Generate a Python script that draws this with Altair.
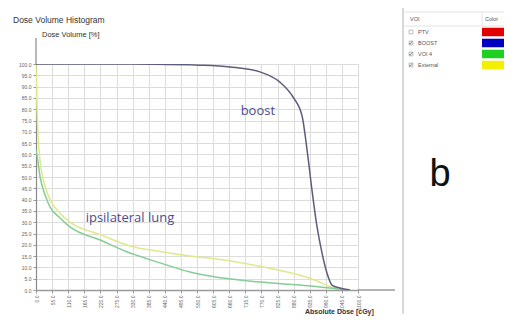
import altair as alt
import pandas as pd

# ---- data ----
x_ticks = [0, 55, 110, 165, 220, 275, 330, 385, 440, 495, 550, 605, 660, 715, 770, 825, 880, 935, 990, 1045, 1100]
y_ticks = [0, 5, 10, 15, 20, 25, 30, 35, 40, 45, 50, 55, 60, 65, 70, 75, 80, 85, 90, 95, 100]

boost_dose = [0, 200, 400, 560, 663, 765, 833, 878, 909, 926, 943, 960, 977, 994, 1011, 1038, 1073]
boost_vol = [100, 100, 99.9, 99.5, 98.7, 96.5, 92, 85.4, 77, 62, 44, 28, 16.4, 7.5, 2.2, 0.9, 0]

lung_dose = [0, 3, 14, 31, 48, 82, 116, 219, 321, 424, 526, 594, 765, 902, 1004, 1056]
lung_vol = [62, 60, 50, 42, 36.7, 31.9, 27.9, 22.1, 16.4, 12, 8, 6.2, 3.5, 2.2, 0.9, 0]

ext_dose = [0, 3, 7, 14, 31, 48, 82, 116, 219, 321, 424, 526, 594, 765, 902, 960, 1004, 1040]
ext_vol = [100, 82, 68, 57, 46, 40, 34, 30, 24.5, 19.5, 17, 15, 14, 10.5, 6.5, 4, 1.5, 0]

series_names = ["External", "VOI 4", "BOOST"]
series_colors = ["#dfe88a", "#86cc96", "#5c5c7c"]

voi_names = ["PTV", "BOOST", "VOI 4", "External"]
voi_colors = ["#e00000", "#0000c0", "#20d020", "#f0f000"]
voi_checked = [False, True, True, True]

ann_labels = ["boost", "ipsilateral lung"]
ann_dose = [758, 321]
ann_vol = [79, 32]

# ---- tables ----
rows = []
for n, d, v in [("External", ext_dose, ext_vol), ("VOI 4", lung_dose, lung_vol), ("BOOST", boost_dose, boost_vol)]:
    for a, b in zip(d, v):
        rows.append({"series": n, "dose": a, "volume": b})
df = pd.DataFrame(rows)
ann = pd.DataFrame({"label": ann_labels, "dose": ann_dose, "volume": ann_vol})
voi = pd.DataFrame({"voi": voi_names, "checked": voi_checked})
one = pd.DataFrame({"k": [0]})

FONT = "Liberation Sans"

xaxis = alt.Axis(values=x_ticks, tickCount=30, format=".1f", labelAngle=270, labelFontSize=5, labelColor="#666",
                 labelFont=FONT, tickSize=3, tickColor="#999", domainColor="#9a9a9a", domainWidth=1.5,
                 grid=True, gridColor="#dcdcdc", gridWidth=1, title=None, labelPadding=2,
                 labelOverlap=False, labelBound=False, labelFlush=False)
yaxis = alt.Axis(values=y_ticks, tickCount=30, format=".1f", labelFontSize=5, labelColor="#666", labelFont=FONT,
                 tickSize=3, tickColor="#999", domainColor="#8a8a8a", domainWidth=1.2,
                 grid=True, gridColor="#dcdcdc", gridWidth=1, title=None, labelPadding=2,
                 labelOverlap=False, labelBound=False, labelFlush=False)

lines = alt.Chart(df).mark_line(strokeWidth=1.5, clip=True, interpolate="monotone").encode(
    x=alt.X("dose:Q", scale=alt.Scale(domain=[0, 1100]), axis=xaxis),
    y=alt.Y("volume:Q", scale=alt.Scale(domain=[0, 100]), axis=yaxis),
    color=alt.Color("series:N", scale=alt.Scale(domain=series_names, range=series_colors), legend=None),
)

ann_text = alt.Chart(ann).mark_text(fontSize=13, color="#4b4b93", font="Open Sans").encode(
    x=alt.X("dose:Q", axis=xaxis), y=alt.Y("volume:Q", axis=yaxis), text="label:N"
)

main = alt.layer(lines, ann_text)

def txt(s, x, y, size, color="#333", align="left", weight="normal", font=FONT):
    return alt.Chart(pd.DataFrame({"t": [s]})).mark_text(
        align=align, baseline="middle", fontSize=size, color=color, fontWeight=weight, font=font
    ).encode(x=alt.value(x), y=alt.value(y), text="t:N")

def rule(x, x2, y, y2, color="#d8d8d8", w=1.0):
    return alt.Chart(one).mark_rule(color=color, strokeWidth=w).encode(
        x=alt.value(x), x2=alt.value(x2), y=alt.value(y), y2=alt.value(y2)
    )

Y = alt.Y("voi:N", scale=alt.Scale(type="point", domain=voi_names, range=[-32, 1], padding=0), axis=None)

swatch = alt.Chart(voi).mark_rule(strokeWidth=8.5).encode(
    x=alt.value(446), x2=alt.value(474), y=Y,
    color=alt.Color("voi:N", scale=alt.Scale(domain=voi_names, range=voi_colors), legend=None),
)
names = alt.Chart(voi).mark_text(align="left", baseline="middle", fontSize=5.5, color="#555", font=FONT).encode(
    x=alt.value(382), y=Y, text="voi:N"
)
boxes = alt.Chart(voi).mark_square(size=14, filled=False, stroke="#888", strokeWidth=0.8).encode(
    x=alt.value(375), y=Y
)
checks = alt.Chart(voi).transform_filter(alt.datum.checked == True).mark_text(
    text="✓", fontSize=6, color="#555", font="DejaVu Sans"
).encode(x=alt.value(375), y=Y)

table = alt.layer(
    rule(367, 367, -64, 250, "#d8d8d8", 2),
    rule(367, 470, -52, -52, "#e2e2e2", 1),
    rule(367, 470, -38, -38, "#e2e2e2", 1),
    rule(446, 446, -52, -38, "#e2e2e2", 1),
    swatch, names, boxes, checks,
    txt("VOI", 374, -45, 5.5, "#555"),
    txt("Color", 449, -45, 5.5, "#555"),
    txt("b", 404, 111, 38, "#111", "center"),
    txt("Dose Volume Histogram", -23, -44, 8.5, "#333"),
    txt("Dose Volume [%]", 6, -29, 7.5, "#333"),
    txt("Absolute Dose [cGy]", 269, 248, 7, "#333", "left", "bold"),
    rule(0, 0, -26, 0, "#8a8a8a", 1.2),
    rule(322, 359, 226, 226, "#9a9a9a", 1.5),
)

chart = alt.layer(main, table).resolve_scale(y="independent", color="independent").properties(
    width=322, height=226,
    padding={"left": 28, "top": 56, "right": 146, "bottom": 27},
    autosize=alt.AutoSizeParams(type="none"),
).configure_view(stroke=None)

chart.save("out.html", embed_options={"renderer": "svg", "actions": False})
